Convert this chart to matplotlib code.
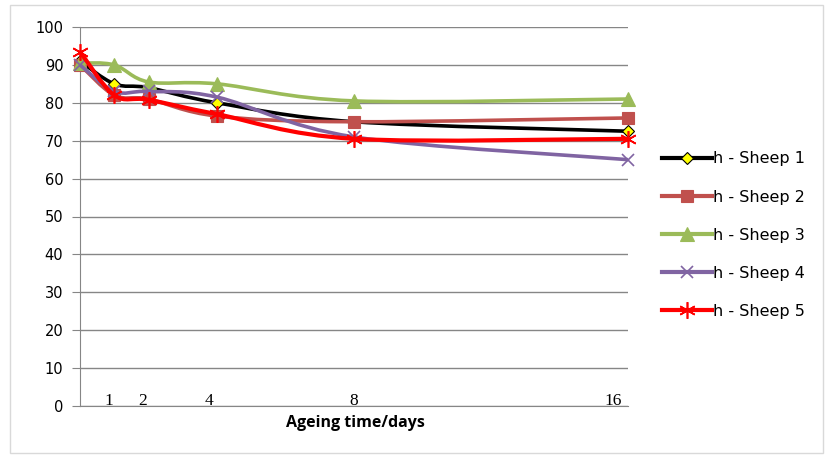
import matplotlib
matplotlib.use("Agg")
import matplotlib.pyplot as plt
from matplotlib.path import Path
from matplotlib.patches import PathPatch, Rectangle
from matplotlib.lines import Line2D
import matplotlib.transforms as mtransforms

days = [0, 1, 2, 4, 8, 16]
sheep1 = [91, 85, 84, 80, 75, 72.5]
sheep2 = [90, 82, 81, 76.5, 75, 76]
sheep3 = [90.5, 90, 85.5, 85, 80.5, 81]
sheep4 = [90, 83, 83, 81.5, 71, 65]
sheep5 = [93.5, 82, 80.8, 77, 70.5, 70.5]
labels = ["h - Sheep 1", "h - Sheep 2", "h - Sheep 3", "h - Sheep 4", "h - Sheep 5"]
xtick_vals = [1, 2, 4, 8, 16]
ytick_vals = list(range(0, 101, 10))

colors = ["#000000", "#C0504D", "#9BBB59", "#8064A2", "#FF0000"]
markers = ["D", "s", "^", "x", (6, 2, 0)]
mfcs = ["#FFFF00", "#C0504D", "#9BBB59", "#8064A2", "#FF0000"]
msizes = [6, 9, 10, 9, 12]
mews = [0.8, 0.8, 0.8, 1.2, 1.2]

fig = plt.figure(figsize=(8.33, 4.58), dpi=100)
fig.patches.append(Rectangle((0.012, 0.012), 0.976, 0.976, transform=fig.transFigure,
                             fill=False, edgecolor="#D9D9D9", lw=1))
ax = fig.add_axes([80/833, 1-406/458, (628-80)/833, (406-27)/458])


def smooth_path(xs, ys):
    verts = [(xs[0], ys[0])]
    codes = [Path.MOVETO]
    n = len(xs)
    for i in range(n - 1):
        x0, y0 = (xs[i-1], ys[i-1]) if i > 0 else (xs[i], ys[i])
        x1, y1 = xs[i], ys[i]
        x2, y2 = xs[i+1], ys[i+1]
        x3, y3 = (xs[i+2], ys[i+2]) if i + 2 < n else (xs[i+1], ys[i+1])
        c1 = (x1 + (x2 - x0) / 6, y1 + (y2 - y0) / 6)
        c2 = (x2 - (x3 - x1) / 6, y2 - (y3 - y1) / 6)
        verts += [c1, c2, (x2, y2)]
        codes += [Path.CURVE4] * 3
    return Path(verts, codes)


series = [sheep1, sheep2, sheep3, sheep4, sheep5]
handles = []
for i, s in enumerate(series):
    lw = 3.0 if i == 4 else 2.6
    p = PathPatch(smooth_path(days, s), facecolor="none", edgecolor=colors[i], lw=lw,
                  zorder=3 + i, clip_on=False)
    ax.add_patch(p)
    ax.plot(days, s, linestyle="none", marker=markers[i], ms=msizes[i], mfc=mfcs[i],
            mec=colors[i], mew=mews[i], zorder=3 + i, clip_on=False)
    handles.append(Line2D([], [], color=colors[i], lw=3, marker=markers[i], ms=msizes[i],
                          mfc=mfcs[i], mec=colors[i], mew=mews[i]))

ax.set_xlim(0, 16)
ax.set_ylim(0, 100)
ax.set_yticks(ytick_vals)
ax.set_yticklabels([str(v) for v in ytick_vals], family="DejaVu Sans", fontsize=10.5,
                   color="#000000")
ax.set_xticks(xtick_vals)
ax.set_xticklabels([])
label_shift_px = [-5, -6, -8, 0, -15]
base = ax.get_xaxis_transform()
for v, dx in zip(xtick_vals, label_shift_px):
    tr = base + mtransforms.ScaledTranslation(dx/100, 5/100, fig.dpi_scale_trans)
    ax.text(v, 0, str(v), transform=tr, ha="center", va="center",
            family="Liberation Serif", fontsize=12.5, clip_on=False)
ax.tick_params(axis="x", length=0)
ax.tick_params(axis="y", length=6, color="#868686", pad=6)
ax.grid(axis="y", color="#868686", lw=1)
for sp in ["top", "right"]:
    ax.spines[sp].set_visible(False)
ax.spines["left"].set_color("#868686")
ax.spines["bottom"].set_color("#868686")
ax.set_axisbelow(True)
ax.set_xlabel("Ageing time/days", family="Open Sans", fontweight="bold", fontsize=11.5)
ax.xaxis.set_label_coords(0.502, -0.024)

fig.legend(handles, labels, loc="upper left", bbox_to_anchor=(648/833, 1-137/458),
           frameon=False, prop={"family": "DejaVu Sans", "size": 11.5},
           handlelength=3.1, handletextpad=0.1, labelspacing=1.45)

fig.savefig("out.png", dpi=100)
